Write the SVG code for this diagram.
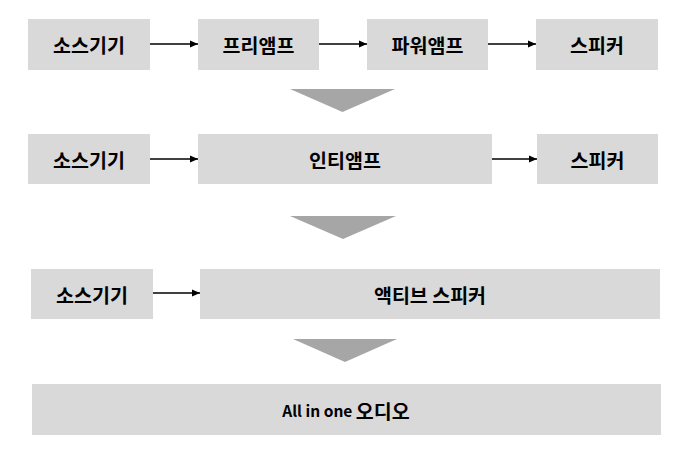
<svg xmlns="http://www.w3.org/2000/svg" width="681" height="453" viewBox="0 0 681 453">
  <style>
    .box { fill: #D9D9D9; }
    .lbl { font-family: "Noto Sans CJK KR", "Noto Sans", sans-serif; font-weight: bold; font-size: 19.5px; fill: #000; text-anchor: middle; dominant-baseline: central; }
    .conn { stroke: #000; stroke-width: 1.3; fill: none; marker-end: url(#ah); }
    .tri { fill: #A6A6A6; }
  </style>
  <defs>
    <marker id="ah" markerUnits="userSpaceOnUse" markerWidth="9" markerHeight="8" refX="8" refY="4" orient="auto">
      <path d="M0,0.5 L8,4 L0,7.5 Z" fill="#000"/>
    </marker>
  </defs>
  <rect width="681" height="453" fill="#FFFFFF"/>

  <g id="r1-source"><rect class="box" x="28" y="19" width="122" height="51"/><text class="lbl" x="89" y="44.5">소스기기</text></g>
  <g id="r1-preamp"><rect class="box" x="198" y="19" width="121" height="51"/><text class="lbl" x="258.5" y="44.5">프리앰프</text></g>
  <g id="r1-poweramp"><rect class="box" x="367" y="19" width="121" height="51"/><text class="lbl" x="427.5" y="44.5">파워앰프</text></g>
  <g id="r1-speaker"><rect class="box" x="536" y="19" width="122" height="51"/><text class="lbl" x="597" y="44.5">스피커</text></g>

  <g id="r2-source"><rect class="box" x="28" y="134" width="122" height="50"/><text class="lbl" x="89" y="159.5">소스기기</text></g>
  <g id="r2-intamp"><rect class="box" x="198" y="134" width="294" height="50"/><text class="lbl" x="345" y="159.5">인티앰프</text></g>
  <g id="r2-speaker"><rect class="box" x="537" y="134" width="121" height="50"/><text class="lbl" x="597.5" y="159.5">스피커</text></g>

  <g id="r3-source"><rect class="box" x="31" y="269" width="122" height="50"/><text class="lbl" x="92" y="294.5">소스기기</text></g>
  <g id="r3-active"><rect class="box" x="200" y="269" width="460" height="50"/><text class="lbl" x="430" y="294.5">액티브 스피커</text></g>

  <g id="r4-allinone"><rect class="box" x="32" y="384" width="629" height="51"/><text class="lbl" x="346" y="410"><tspan font-size="15.5px">All in one </tspan>오디오</text></g>

  <g id="transitions">
    <polygon class="tri" points="290,89 395,89 342.5,112"/>
    <polygon class="tri" points="290,216 396,216 343,239"/>
    <polygon class="tri" points="293,339 397,339 345,362"/>
  </g>

  <g id="connectors">
    <line class="conn" x1="150" y1="44" x2="198" y2="44"/>
    <line class="conn" x1="319" y1="44" x2="367" y2="44"/>
    <line class="conn" x1="488" y1="44" x2="536" y2="44"/>
    <line class="conn" x1="150" y1="159" x2="198" y2="159"/>
    <line class="conn" x1="492" y1="159" x2="537" y2="159"/>
    <line class="conn" x1="153" y1="293" x2="200" y2="293"/>
  </g>
</svg>
